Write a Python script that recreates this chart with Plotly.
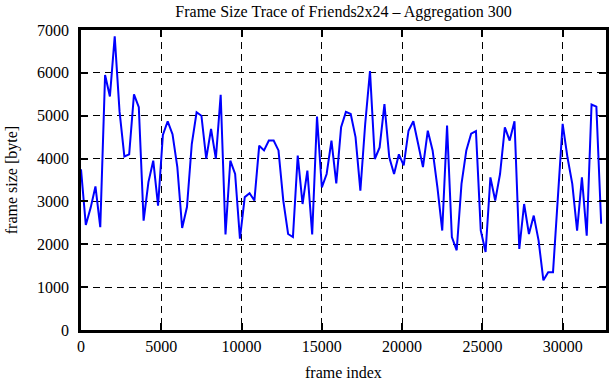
import plotly.graph_objects as go

# Aggregation step of 300 frames
frame_index = list(range(0, 32700, 300))

frame_size = [
    3750, 2450, 2850, 3350, 2400, 5950, 5450, 6850, 5100, 4050,
    4100, 5500, 5200, 2550, 3450, 3950, 2900, 4550, 4870, 4570,
    3800, 2380, 2870, 4340, 5080, 5000, 4000, 4690, 4000, 5490,
    2230, 3950, 3640, 2130, 3100, 3190, 3020, 4300, 4190, 4420,
    4420, 4190, 3020, 2240, 2170, 4070, 2940, 3720, 2230, 4980,
    3330, 3640, 4420, 3420, 4730, 5090, 5040, 4500, 3250, 4800,
    6040, 3990, 4260, 5270, 4030, 3640, 4100, 3840, 4650, 4870,
    4340, 3800, 4650, 4190, 3330, 2320, 4770, 2170, 1860, 3410,
    4190, 4580, 4640, 2320, 1820, 3560, 3020, 3640, 4730, 4420,
    4870, 1890, 2940, 2240, 2670, 2090, 1160, 1350, 1350, 3180,
    4810, 4030, 3410, 2320, 3560, 2200, 5260, 5210, 2480,
]

x_ticks = [0, 5000, 10000, 15000, 20000, 25000, 30000]
y_ticks = [0, 1000, 2000, 3000, 4000, 5000, 6000, 7000]

title_text = "Frame Size Trace of Friends2x24 \u2013 Aggregation 300"
x_title = "frame index"
y_title = "frame size [byte]"

FONT = "Liberation Serif"

fig = go.Figure()
fig.add_trace(go.Scatter(
    x=frame_index[:len(frame_size)], y=frame_size, mode="lines",
    line=dict(color="#0000ff", width=2), showlegend=False,
    hoverinfo="skip",
))

axis_common = dict(
    showline=True, linecolor="black", linewidth=2.5, mirror="allticks",
    ticks="inside", ticklen=7, tickwidth=1.5, tickcolor="black",
    showgrid=True, gridcolor="black", gridwidth=1.2, griddash="7px,5px",
    zeroline=False,
    tickfont=dict(family=FONT, size=16, color="black"),
)

fig.update_xaxes(range=[0, 32700], tickvals=x_ticks,
                 ticktext=[str(v) for v in x_ticks], **axis_common)
fig.update_yaxes(range=[0, 7000], tickvals=y_ticks,
                 ticktext=[str(v) for v in y_ticks], ticklabelstandoff=6,
                 **axis_common)

fig.update_layout(
    width=611, height=380,
    margin=dict(l=81, r=2, t=30, b=50),
    paper_bgcolor="white", plot_bgcolor="white",
    font=dict(family=FONT, size=16, color="black"),
    title=dict(text=title_text, x=0.5, xref="paper", xanchor="center",
               y=1 - 11 / 380, yref="container", yanchor="middle",
               font=dict(family=FONT, size=16, color="black")),
    annotations=[
        dict(text=x_title, xref="paper", yref="paper", x=0.5, y=-0.14,
             xanchor="center", yanchor="middle", showarrow=False,
             font=dict(family=FONT, size=16, color="black")),
        dict(text=y_title, xref="paper", yref="paper", x=-0.131, y=0.5,
             xanchor="center", yanchor="middle", showarrow=False, textangle=-90,
             font=dict(family=FONT, size=16, color="black")),
    ],
)

fig.write_html("out.html", config={"displayModeBar": False},
               post_script="document.body.style.margin='0px';")
